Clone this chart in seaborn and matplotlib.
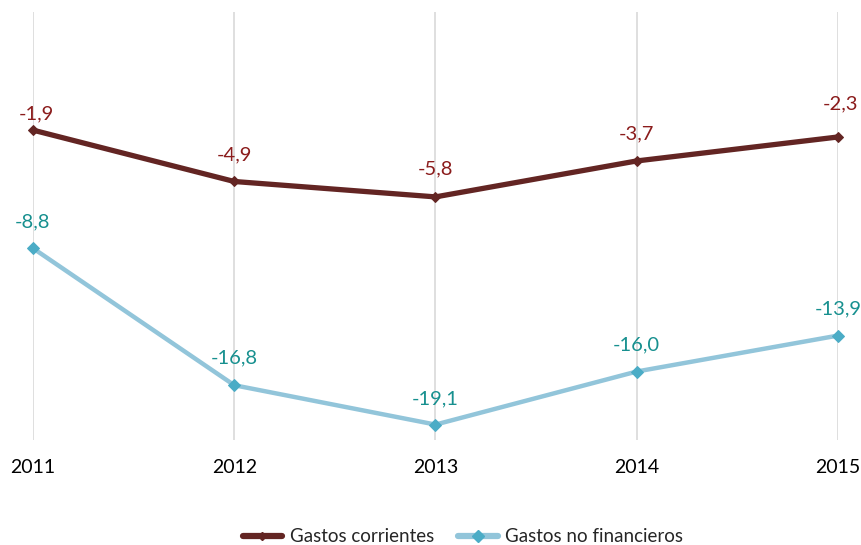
import matplotlib
matplotlib.use("Agg")
import matplotlib.pyplot as plt
import seaborn as sns
import pandas as pd

years = ["2011", "2012", "2013", "2014", "2015"]
gastos_corrientes = [-1.9, -4.9, -5.8, -3.7, -2.3]
gastos_no_financieros = [-8.8, -16.8, -19.1, -16.0, -13.9]
series_names = ["Gastos corrientes", "Gastos no financieros"]

line_colors = ["#632523", "#92c5da"]
marker_colors = ["#632523", "#4bacc6"]
label_colors = ["#8b1c1c", "#17908f"]

df = pd.DataFrame({
    "x": list(range(len(years))) * 2,
    "valor": gastos_corrientes + gastos_no_financieros,
    "serie": [series_names[0]] * len(years) + [series_names[1]] * len(years),
})

sns.set_theme(style="white")
plt.rcParams["font.family"] = ["Lato", "DejaVu Sans"]

fig = plt.figure(figsize=(8.62, 5.45), dpi=100)
ax = fig.add_axes([33 / 862, 1 - 440 / 545, (838 - 33) / 862, (440 - 12) / 545])

sns.lineplot(data=df, x="x", y="valor", hue="serie", palette=line_colors,
             legend=False, ax=ax, sort=False)
for line, mc, ms, lw in zip(ax.get_lines(), marker_colors, [5, 6.5], [3.8, 3.2]):
    line.set_linewidth(lw)
    line.set_marker("D")
    line.set_markersize(ms)
    line.set_markerfacecolor(mc)
    line.set_markeredgecolor(mc)
    line.set_clip_on(False)

ax.set_xlim(0, len(years) - 1)
ax.set_ylim(-20, 5)
ax.set_xticks(range(len(years)))
ax.set_xticklabels(years, fontsize=14, color="#000000")
ax.set_yticks([])
ax.set_xlabel("")
ax.set_ylabel("")
ax.tick_params(axis="x", length=0, pad=14)
for s in ax.spines.values():
    s.set_visible(False)
for i in range(len(years)):
    ax.axvline(i, color="#d9d9d9", linewidth=1.2, zorder=0)

# value labels above each point
offsets = [
    [(3, 16), (0, 27), (0, 28), (0, 27), (3, 33)],
    [(0, 26), (0, 27), (0, 26), (0, 27), (0, 27)],
]
for k, vals in enumerate([gastos_corrientes, gastos_no_financieros]):
    for i, v in enumerate(vals):
        dx, dy = offsets[k][i]
        ax.annotate(f"{v:.1f}".replace(".", ","), (i, v),
                    xytext=(dx * 0.72, dy * 0.72), textcoords="offset points",
                    ha="center", va="center", fontsize=14.5,
                    color=label_colors[k], annotation_clip=False)

handles = [
    plt.Line2D([], [], color=line_colors[0], linewidth=4.5, marker="D",
               markersize=4, markerfacecolor=marker_colors[0]),
    plt.Line2D([], [], color=line_colors[1], linewidth=4.5, marker="D",
               markersize=6, markerfacecolor=marker_colors[1],
               markeredgecolor=marker_colors[1]),
]
fig.legend(handles, series_names, loc="center", bbox_to_anchor=(463 / 862, 1 - 537 / 545),
           ncol=2, frameon=False, fontsize=13.5, handlelength=2.1,
           columnspacing=1.3, handletextpad=0.4)

fig.savefig("out.png", dpi=100)
